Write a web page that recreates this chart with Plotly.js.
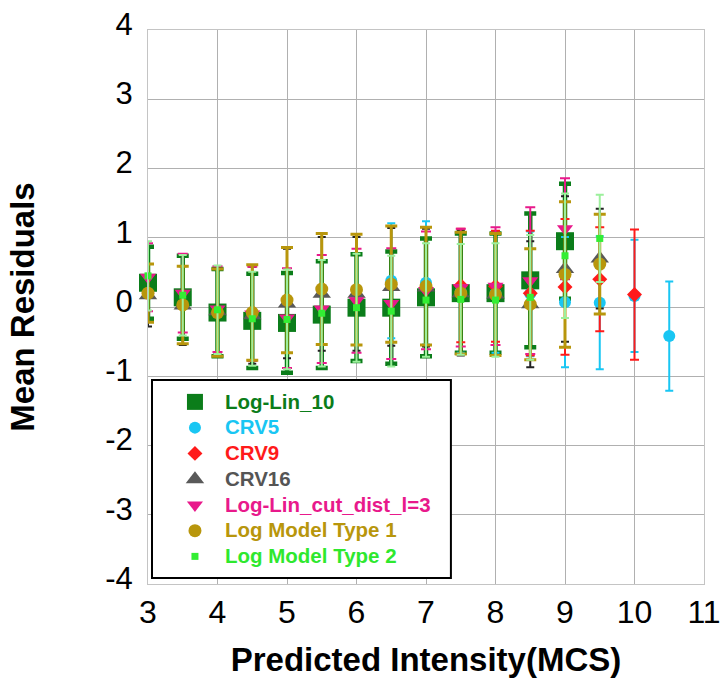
<!DOCTYPE html>
<html>
<head>
<meta charset="utf-8">
<script src="https://cdn.plot.ly/plotly-3.0.1.min.js"></script>
<style>html,body{margin:0;padding:0;background:#fff;}#chart{width:720px;height:682px;}</style>
</head>
<body>
<div id="chart"></div>
<script>
// ---- data ----
const seriesNames = ['Log-Lin_10','CRV5','CRV9','CRV16','Log-Lin_cut_dist_l=3','Log Model Type 1','Log Model Type 2'];

const xLogLin10 = [3,3.5,4,4.5,5,5.5,6,6.5,7,7.5,8,8.5,9];
const yLogLin10 = [0.35,0.14,-0.08,-0.20,-0.23,-0.11,-0.01,-0.01,0.14,0.20,0.20,0.385,0.95];
const eLogLin10 = [0.52,0.60,0.63,0.68,0.72,0.77,0.77,0.81,0.85,0.86,0.86,0.965,0.83];

const xCRV5 = [6.5,7,7.5,8,8.5,9,9.5,10,10.5];
const yCRV5 = [0.38,0.35,0.22,0.20,0.19,0.07,0.06,0.16,-0.42];
const eCRV5 = [0.83,0.89,0.88,0.86,0.90,0.94,0.96,0.81,0.79];

const xCRV9 = [7.5,8,8.5,9,9.5,10];
const yCRV9 = [0.31,0.30,0.20,0.29,0.40,0.18];
const eCRV9 = [0.82,0.80,0.90,0.98,0.75,0.94];

const xCRV16 = [3,3.5,4,4.5,5,5.5,6,6.5,7,7.5,8,8.5,9,9.5];
const yCRV16 = [0.17,0.02,-0.06,-0.12,0.05,0.19,0.19,0.29,0.28,0.20,0.18,0.04,0.55,0.70];
const eCRV16 = [0.45,0.57,0.62,0.70,0.79,0.82,0.82,0.85,0.85,0.90,0.88,0.91,1.05,0.72];

const xCut = [3,3.5,4,4.5,5,5.5,6,6.5,7,7.5,8,8.5,9];
const yCut = [0.43,0.20,-0.03,-0.10,-0.16,-0.03,0.09,0.05,0.24,0.28,0.30,0.38,1.13];
const eCut = [0.49,0.57,0.62,0.68,0.72,0.78,0.75,0.80,0.85,0.85,0.85,1.06,0.73];

const xType1 = [3,3.5,4,4.5,5,5.5,6,6.5,7,7.5,8,8.5,9,9.5];
const yType1 = [0.20,0.03,-0.08,-0.08,0.10,0.26,0.25,0.33,0.30,0.20,0.18,0.04,0.47,0.62];
const eType1 = [0.42,0.56,0.63,0.69,0.76,0.80,0.80,0.84,0.85,0.88,0.88,0.80,1.05,0.72];

const xType2 = [3,3.5,4,4.5,5,5.5,6,6.5,7,7.5,8,8.5,9,9.5];
const yType2 = [0.45,0.17,-0.04,-0.17,-0.18,-0.09,-0.01,-0.06,0.10,0.11,0.10,0.14,0.74,0.99];
const eType2 = [0.50,0.58,0.64,0.68,0.72,0.77,0.78,0.80,0.82,0.80,0.82,0.90,0.90,0.63];

const xTickVals = [3,4,5,6,7,8,9,10,11];
const yTickVals = [-4,-3,-2,-1,0,1,2,3,4];

// ---- styles ----
const FONT = 'Liberation Sans, Arial, Helvetica, sans-serif';
const colors = ['#0b7d1a','#19c6f3','#ff1a1a','#595959','#e8198b','#b8960c','#33ee33'];
const textColors = ['#0b7d1a','#19c6f3','#ff1a1a','#555555','#e8198b','#b8960c','#2ee82e'];
const symbols = ['square','circle','diamond','triangle-up','triangle-down','circle','square'];
const sizes = [18,12,11.5,16,14,13,7];
const errColors = ['#0b7d1a','#19c6f3','#ff1a1a','#222222','#e8198b','#b8960c','#9cf09c'];
const errThick = [4.5,2,2,2,2,3,2];
const errWidth = [6,4,4.5,4,5,6,4];

const xs = [xLogLin10,xCRV5,xCRV9,xCRV16,xCut,xType1,xType2];
const ys = [yLogLin10,yCRV5,yCRV9,yCRV16,yCut,yType1,yType2];
const es = [eLogLin10,eCRV5,eCRV9,eCRV16,eCut,eType1,eType2];

const traces = seriesNames.map((nm,i)=>({
  type:'scatter', mode:'markers',
  x: xs[i], y: ys[i],
  name: '<span style="color:'+textColors[i]+';font-size:20.5px">'+nm+'</span>',
  marker:{symbol:symbols[i], size:sizes[i], color:colors[i], line:{width:0}},
  error_y:{type:'data', array:es[i], symmetric:true, visible:true,
           color:errColors[i], thickness:errThick[i], width:errWidth[i]},
  cliponaxis:false
}));

const layout = {
  width:720, height:682,
  margin:{l:148, r:16, t:30, b:98, pad:0},
  paper_bgcolor:'#ffffff', plot_bgcolor:'#ffffff',
  font:{family:FONT, color:'#000'},
  showlegend:true,
  legend:{
    x:0.0305, y:0.361, xanchor:'left', yanchor:'top',
    bgcolor:'rgba(0,0,0,0)', borderwidth:0,
    itemwidth:50, itemsizing:'trace',
    font:{family:FONT, size:17.5, weight:'bold'}
  },
  xaxis:{
    range:[3,11], tickvals:xTickVals, ticktext:xTickVals.map(String),
    showgrid:true, gridcolor:'#b0b0b0', gridwidth:1,
    zeroline:false, showline:true, linecolor:'#c4c4c4', linewidth:1, mirror:true,
    ticks:'', ticklabelstandoff:0, ticklabeloverflow:'allow',
    tickfont:{family:FONT, size:32, color:'#000'},
    title:{text:'Predicted Intensity(MCS)', standoff:18,
           font:{family:FONT, size:33, weight:'bold', color:'#000'}}
  },
  yaxis:{
    range:[-4,4], tickvals:yTickVals, ticktext:yTickVals.map(String),
    showgrid:true, gridcolor:'#b0b0b0', gridwidth:1,
    zeroline:false, showline:true, linecolor:'#c4c4c4', linewidth:1, mirror:true,
    ticks:'', ticklabelstandoff:8, ticklabelshift:-6,
    tickfont:{family:FONT, size:31, color:'#000'},
    title:{text:'Mean Residuals', standoff:60,
           font:{family:FONT, size:33, weight:'bold', color:'#000'}}
  },
  shapes:[{
    type:'rect', xref:'paper', yref:'paper', layer:'above',
    x0:0.0072, x1:0.5448, y0:0.0108, y1:0.3682,
    line:{color:'#000', width:2}, fillcolor:'#ffffff'
  }]
};

Plotly.newPlot('chart', traces, layout, {displayModeBar:false, staticPlot:true});
</script>
</body>
</html>
